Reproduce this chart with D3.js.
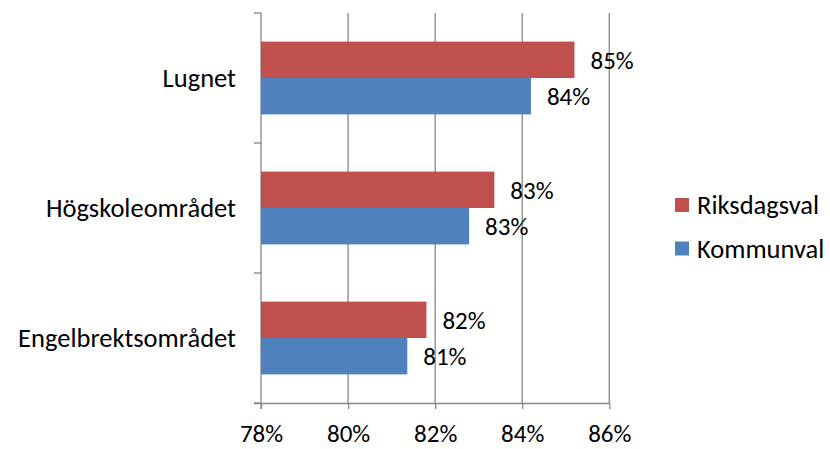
<!DOCTYPE html>
<html>
<head>
<meta charset="utf-8">
<title>Valdeltagande</title>
<script src="https://d3js.org/d3.v7.min.js"></script>
<style>
  body { margin: 0; background: #fff; }
  text { font-family: Carlito, Calibri, Lato, sans-serif; fill: #000; }
</style>
</head>
<body>
<div id="chart"></div>
<script>
// data
var categories = ["Lugnet", "Högskoleområdet", "Engelbrektsområdet"];
var riksdagsval = [85.2, 83.36, 81.8];
var kommunval = [84.2, 82.78, 81.36];
var seriesNames = ["Riksdagsval", "Kommunval"];
var tickValues = [78, 80, 82, 84, 86];

var colors = {Riksdagsval: "#C0504D", Kommunval: "#4F81BD"};

var W = 830, H = 449;
var pLeft = 261, pRight = 609.3, pTop = 13, pBottom = 403;
var fs = "25px";      // numbers
var fsWord = "26.5px"; // category and legend words

var svg = d3.select("#chart").append("svg")
    .attr("width", W).attr("height", H);

var x = d3.scaleLinear().domain([78, 86]).range([pLeft, pRight]);
var y = d3.scaleBand().domain(categories).range([pTop, pBottom])
    .paddingInner(0.44).paddingOuter(0.22);
var ySub = d3.scaleBand().domain(seriesNames).range([0, y.bandwidth()]);

// gridlines
svg.append("g").selectAll("line")
    .data(tickValues.slice(1))
    .enter().append("line")
    .attr("x1", function(d) { return x(d); })
    .attr("x2", function(d) { return x(d); })
    .attr("y1", pTop).attr("y2", pBottom)
    .attr("stroke", "#878787").attr("stroke-width", 1.3);

// x axis
var xAxis = svg.append("g")
    .attr("transform", "translate(0," + pBottom + ")")
    .call(d3.axisBottom(x).tickValues(tickValues)
        .tickFormat(function(d) { return d + "%"; })
        .tickSize(6).tickPadding(15).tickSizeOuter(0));
xAxis.select(".domain").attr("stroke", "#878787").attr("stroke-width", 1.3)
    .attr("d", "M" + (pLeft - 7) + ",0.5H" + pRight);
xAxis.selectAll(".tick line").attr("stroke", "#878787").attr("stroke-width", 1.3);
xAxis.selectAll("text").style("font-size", fs)
    .style("font-family", "Carlito, Calibri, Lato, sans-serif");

// y axis: line + boundary ticks
var yAxis = svg.append("g");
yAxis.append("line")
    .attr("x1", pLeft).attr("x2", pLeft).attr("y1", pTop).attr("y2", pBottom + 6)
    .attr("stroke", "#878787").attr("stroke-width", 1.3);
var bounds = categories.map(function(c) { return y(c) - y.step() * 0.22; });
bounds.push(pBottom);
yAxis.selectAll(".bt").data(bounds).enter().append("line")
    .attr("x1", pLeft - 7).attr("x2", pLeft)
    .attr("y1", function(d) { return d; }).attr("y2", function(d) { return d; })
    .attr("stroke", "#878787").attr("stroke-width", 1.3);

yAxis.selectAll(".cat").data(categories).enter().append("text")
    .attr("x", pLeft - 25)
    .attr("y", function(d) { return y(d) + y.bandwidth() / 2; })
    .attr("dy", "0.35em")
    .attr("text-anchor", "end")
    .style("font-size", fsWord)
    .text(function(d) { return d; });

// bars
var rows = categories.map(function(c, i) {
  return {cat: c, values: [
    {name: "Riksdagsval", v: riksdagsval[i]},
    {name: "Kommunval", v: kommunval[i]}
  ]};
});

var groups = svg.selectAll(".grp").data(rows).enter().append("g")
    .attr("transform", function(d) { return "translate(0," + y(d.cat) + ")"; });

groups.selectAll("rect").data(function(d) { return d.values; })
    .enter().append("rect")
    .attr("x", x(78))
    .attr("y", function(d) { return ySub(d.name); })
    .attr("width", function(d) { return x(d.v) - x(78); })
    .attr("height", ySub.bandwidth())
    .attr("fill", function(d) { return colors[d.name]; });

groups.selectAll(".lbl").data(function(d) { return d.values; })
    .enter().append("text")
    .attr("x", function(d) { return x(d.v) + 16; })
    .attr("y", function(d) { return ySub(d.name) + ySub.bandwidth() / 2; })
    .attr("dy", "0.35em")
    .style("font-size", fs)
    .text(function(d) { return Math.round(d.v) + "%"; });

// legend
var legend = svg.selectAll(".leg").data(seriesNames).enter().append("g")
    .attr("transform", function(d, i) { return "translate(675," + (198 + i * 43.5) + ")"; });
legend.append("rect")
    .attr("width", 14).attr("height", 14)
    .attr("fill", function(d) { return colors[d]; });
legend.append("text")
    .attr("x", 22).attr("y", 7).attr("dy", "0.35em")
    .style("font-size", fsWord)
    .text(function(d) { return d; });
</script>
</body>
</html>
